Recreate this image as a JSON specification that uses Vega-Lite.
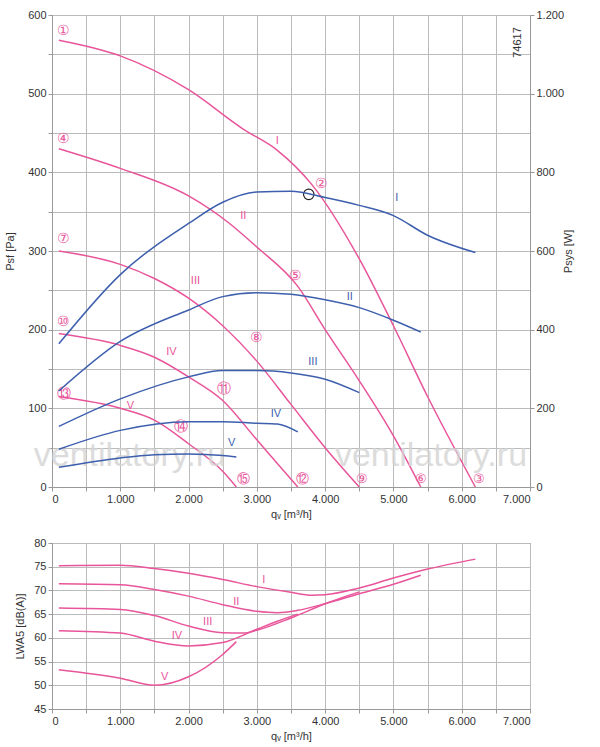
{
  "$schema": "https://vega.github.io/schema/vega-lite/v6.json",
  "padding": {"left": 4, "top": 8, "right": 5, "bottom": 0},
  "background": "white",
  "spacing": 16,
  "datasets": {
    "p": [
      {"q":100,"pa":568,"c":"I"},{"q":1000,"pa":548,"c":"I"},{"q":2000,"pa":505,"c":"I"},{"q":2800,"pa":455,"c":"I"},{"q":3300,"pa":428,"c":"I"},{"q":3800,"pa":385,"c":"I"},{"q":4500,"pa":290,"c":"I"},{"q":5000,"pa":205,"c":"I"},{"q":5500,"pa":115,"c":"I"},{"q":6200,"pa":0,"c":"I"},
      {"q":100,"pa":430,"c":"II"},{"q":1000,"pa":405,"c":"II"},{"q":2000,"pa":370,"c":"II"},{"q":2600,"pa":335,"c":"II"},{"q":3000,"pa":305,"c":"II"},{"q":3600,"pa":255,"c":"II"},{"q":4000,"pa":200,"c":"II"},{"q":4500,"pa":135,"c":"II"},{"q":5000,"pa":65,"c":"II"},{"q":5400,"pa":0,"c":"II"},
      {"q":100,"pa":300,"c":"III"},{"q":1000,"pa":283,"c":"III"},{"q":1500,"pa":265,"c":"III"},{"q":2000,"pa":240,"c":"III"},{"q":2500,"pa":205,"c":"III"},{"q":3000,"pa":160,"c":"III"},{"q":3500,"pa":105,"c":"III"},{"q":4000,"pa":50,"c":"III"},{"q":4500,"pa":0,"c":"III"},
      {"q":100,"pa":195,"c":"IV"},{"q":1000,"pa":180,"c":"IV"},{"q":1500,"pa":165,"c":"IV"},{"q":2000,"pa":140,"c":"IV"},{"q":2500,"pa":110,"c":"IV"},{"q":3000,"pa":60,"c":"IV"},{"q":3300,"pa":30,"c":"IV"},{"q":3600,"pa":0,"c":"IV"},
      {"q":100,"pa":115,"c":"V"},{"q":1000,"pa":100,"c":"V"},{"q":1500,"pa":85,"c":"V"},{"q":2000,"pa":55,"c":"V"},{"q":2500,"pa":20,"c":"V"},{"q":2700,"pa":0,"c":"V"}
    ],
    "w": [
      {"q":100,"w":364,"c":"I"},{"q":1000,"w":540,"c":"I"},{"q":2000,"w":670,"c":"I"},{"q":2500,"w":724,"c":"I"},{"q":3000,"w":750,"c":"I"},{"q":3500,"w":752,"c":"I"},{"q":4000,"w":736,"c":"I"},{"q":4500,"w":716,"c":"I"},{"q":5000,"w":690,"c":"I"},{"q":5500,"w":640,"c":"I"},{"q":6200,"w":596,"c":"I"},
      {"q":100,"w":244,"c":"II"},{"q":1000,"w":370,"c":"II"},{"q":2000,"w":450,"c":"II"},{"q":2500,"w":484,"c":"II"},{"q":3000,"w":494,"c":"II"},{"q":3500,"w":490,"c":"II"},{"q":4000,"w":476,"c":"II"},{"q":4500,"w":456,"c":"II"},{"q":5000,"w":424,"c":"II"},{"q":5400,"w":394,"c":"II"},
      {"q":100,"w":154,"c":"III"},{"q":1000,"w":224,"c":"III"},{"q":2000,"w":280,"c":"III"},{"q":2500,"w":296,"c":"III"},{"q":3000,"w":296,"c":"III"},{"q":3500,"w":290,"c":"III"},{"q":4000,"w":274,"c":"III"},{"q":4500,"w":240,"c":"III"},
      {"q":100,"w":96,"c":"IV"},{"q":1000,"w":144,"c":"IV"},{"q":2000,"w":166,"c":"IV"},{"q":2500,"w":166,"c":"IV"},{"q":3000,"w":162,"c":"IV"},{"q":3300,"w":160,"c":"IV"},{"q":3600,"w":140,"c":"IV"},
      {"q":100,"w":50,"c":"V"},{"q":1000,"w":74,"c":"V"},{"q":1500,"w":82,"c":"V"},{"q":2000,"w":84,"c":"V"},{"q":2500,"w":80,"c":"V"},{"q":2700,"w":76,"c":"V"}
    ],
    "lw": [
      {"q":100,"db":75.2,"c":"I"},{"q":1000,"db":75.3,"c":"I"},{"q":1500,"db":74.6,"c":"I"},{"q":2000,"db":73.6,"c":"I"},{"q":2500,"db":72.3,"c":"I"},{"q":3000,"db":70.8,"c":"I"},{"q":3500,"db":69.6,"c":"I"},{"q":3800,"db":69,"c":"I"},{"q":4000,"db":69.1,"c":"I"},{"q":4500,"db":70.5,"c":"I"},{"q":5000,"db":72.6,"c":"I"},{"q":5500,"db":74.5,"c":"I"},{"q":6200,"db":76.6,"c":"I"},
      {"q":100,"db":71.4,"c":"II"},{"q":1000,"db":71.2,"c":"II"},{"q":1500,"db":70.2,"c":"II"},{"q":2000,"db":68.8,"c":"II"},{"q":2500,"db":67,"c":"II"},{"q":3000,"db":65.6,"c":"II"},{"q":3300,"db":65.3,"c":"II"},{"q":3600,"db":65.8,"c":"II"},{"q":4000,"db":67.2,"c":"II"},{"q":4500,"db":69.3,"c":"II"},{"q":5000,"db":71.3,"c":"II"},{"q":5400,"db":73.2,"c":"II"},
      {"q":100,"db":66.3,"c":"III"},{"q":1000,"db":66,"c":"III"},{"q":1500,"db":64.7,"c":"III"},{"q":2000,"db":62.5,"c":"III"},{"q":2500,"db":61.1,"c":"III"},{"q":2800,"db":61,"c":"III"},{"q":3000,"db":61.6,"c":"III"},{"q":3500,"db":64.2,"c":"III"},{"q":4000,"db":67.2,"c":"III"},{"q":4500,"db":69.7,"c":"III"},
      {"q":100,"db":61.5,"c":"IV"},{"q":1000,"db":61,"c":"IV"},{"q":1500,"db":59.3,"c":"IV"},{"q":2000,"db":58.3,"c":"IV"},{"q":2500,"db":59,"c":"IV"},{"q":3000,"db":61.8,"c":"IV"},{"q":3300,"db":63.5,"c":"IV"},{"q":3600,"db":65,"c":"IV"},
      {"q":100,"db":53.3,"c":"V"},{"q":1000,"db":51.5,"c":"V"},{"q":1500,"db":50,"c":"V"},{"q":2000,"db":51.8,"c":"V"},{"q":2500,"db":56.5,"c":"V"},{"q":2700,"db":59.2,"c":"V"}
    ],
    "plabels": [
      {"q":3300,"pa":440,"t":"I","col":"#e8559a","size":11},
      {"q":2800,"pa":345,"t":"II","col":"#e8559a","size":11},
      {"q":2100,"pa":262,"t":"III","col":"#e8559a","size":11},
      {"q":1750,"pa":172,"t":"IV","col":"#e8559a","size":11},
      {"q":1150,"pa":103,"t":"V","col":"#e8559a","size":11},
      {"q":5050,"pa":367,"t":"I","col":"#3d5fad","size":11},
      {"q":4360,"pa":241,"t":"II","col":"#3d5fad","size":11},
      {"q":3820,"pa":159,"t":"III","col":"#3d5fad","size":11},
      {"q":3280,"pa":93,"t":"IV","col":"#3d5fad","size":11},
      {"q":2630,"pa":56,"t":"V","col":"#3d5fad","size":11},
      {"q":175,"pa":580,"t":"①","col":"#e8559a","size":14},
      {"q":175,"pa":442,"t":"④","col":"#e8559a","size":14},
      {"q":175,"pa":315,"t":"⑦","col":"#e8559a","size":14},
      {"q":175,"pa":210,"t":"⑩","col":"#e8559a","size":14},
      {"q":175,"pa":118,"t":"⑬","col":"#e8559a","size":14},
      {"q":3950,"pa":385,"t":"②","col":"#e8559a","size":14},
      {"q":3570,"pa":268,"t":"⑤","col":"#e8559a","size":14},
      {"q":2990,"pa":190,"t":"⑧","col":"#e8559a","size":14},
      {"q":2520,"pa":125,"t":"⑪","col":"#e8559a","size":14},
      {"q":1890,"pa":76,"t":"⑭","col":"#e8559a","size":14},
      {"q":6250,"pa":10,"t":"③","col":"#e8559a","size":13},
      {"q":5400,"pa":10,"t":"⑥","col":"#e8559a","size":13},
      {"q":4540,"pa":10,"t":"⑨","col":"#e8559a","size":13},
      {"q":3670,"pa":10,"t":"⑫","col":"#e8559a","size":13},
      {"q":2810,"pa":10,"t":"⑮","col":"#e8559a","size":13}
    ],
    "lwlabels": [
      {"q":3100,"db":72.3,"t":"I"},{"q":2700,"db":67.5,"t":"II"},{"q":2280,"db":63.3,"t":"III"},{"q":1830,"db":60.3,"t":"IV"},{"q":1650,"db":51.8,"t":"V"}
    ]
  },
  "config": {
    "view": {"stroke": "#999"},
    "font": "Liberation Sans",
    "axis": {"grid": true, "gridColor": "#bbb", "gridWidth": 1, "tickColor": "#999", "domainColor": "#999", "labelColor": "#333", "labelFontSize": 11, "titleFontSize": 11, "titleFontWeight": "normal", "titleColor": "#333", "labelOverlap": false, "tickSize": 4}
  },
  "vconcat": [
    {
      "width": 478,
      "height": 472,
      "resolve": {"scale": {"y": "independent"}, "axis": {"y": "independent"}},
      "layer": [
        {
          "layer": [
            {
              "data": {"name": "p"},
              "mark": {"type": "line", "color": "#e8559a", "strokeWidth": 1.5, "interpolate": "monotone"},
              "encoding": {
                "x": {"field": "q", "type": "quantitative", "scale": {"domain": [0, 7000]}, "title": "qᵥ [m³/h]",
                  "axis": {"tickCount": 14, "labelExpr": "datum.value % 1000 == 0 ? replace(format(datum.value, ','), ',', '.') : ''", "titlePadding": 4}},
                "y": {"field": "pa", "type": "quantitative", "scale": {"domain": [0, 600]}, "title": "Psf [Pa]",
                  "axis": {"tickCount": 12, "labelExpr": "datum.value % 100 == 0 ? datum.label : ''", "titlePadding": 12}},
                "detail": {"field": "c"}
              }
            },
            {
              "data": {"values": [{"q":1140,"pa":40,"t":"ventilatory.ru"},{"q":5550,"pa":40,"t":"ventilatory.ru"}]},
              "mark": {"type": "text", "fontSize": 34, "color": "#d4d4d4", "opacity": 0.8},
              "encoding": {"x": {"field": "q", "type": "quantitative"}, "y": {"field": "pa", "type": "quantitative"}, "text": {"field": "t"}}
            },
            {
              "data": {"name": "plabels"},
              "mark": {"type": "text", "baseline": "middle"},
              "encoding": {
                "x": {"field": "q", "type": "quantitative"},
                "y": {"field": "pa", "type": "quantitative"},
                "text": {"field": "t"},
                "color": {"field": "col", "type": "nominal", "scale": null},
                "size": {"field": "size", "type": "quantitative", "scale": null}
              }
            },
            {
              "data": {"values": [{"q":3760,"pa":372}]},
              "mark": {"type": "point", "shape": "circle", "size": 110, "stroke": "#222", "fill": "white", "strokeWidth": 1.2, "opacity": 1},
              "encoding": {"x": {"field": "q", "type": "quantitative"}, "y": {"field": "pa", "type": "quantitative"}}
            },
            {
              "data": {"values": [{"q":6830,"pa":565,"t":"74617"}]},
              "mark": {"type": "text", "angle": 270, "fontSize": 11, "color": "#333"},
              "encoding": {"x": {"field": "q", "type": "quantitative"}, "y": {"field": "pa", "type": "quantitative"}, "text": {"field": "t"}}
            }
          ]
        },
        {
          "data": {"name": "w"},
          "mark": {"type": "line", "color": "#3d5fad", "strokeWidth": 1.5, "interpolate": "monotone"},
          "encoding": {
            "x": {"field": "q", "type": "quantitative"},
            "y": {"field": "w", "type": "quantitative", "scale": {"domain": [0, 1200]}, "title": "Psys [W]",
              "axis": {"orient": "right", "grid": false, "titleAngle": 270, "tickCount": 6, "labelExpr": "replace(format(datum.value, ','), ',', '.')", "titlePadding": 10}},
            "detail": {"field": "c"}
          }
        }
      ]
    },
    {
      "width": 478,
      "height": 166,
      "layer": [
        {
          "data": {"name": "lw"},
          "mark": {"type": "line", "color": "#e8559a", "strokeWidth": 1.5, "interpolate": "monotone"},
          "encoding": {
            "x": {"field": "q", "type": "quantitative", "scale": {"domain": [0, 7000]}, "title": "qᵥ [m³/h]",
              "axis": {"tickCount": 14, "labelExpr": "datum.value % 1000 == 0 ? replace(format(datum.value, ','), ',', '.') : ''", "titlePadding": 4}},
            "y": {"field": "db", "type": "quantitative", "scale": {"domain": [45, 80], "zero": false, "nice": false}, "title": "LWA5 [dB(A)]",
              "axis": {"tickCount": 7, "titlePadding": 8}},
            "detail": {"field": "c"}
          }
        },
        {
          "data": {"name": "lwlabels"},
          "mark": {"type": "text", "color": "#e8559a", "fontSize": 11},
          "encoding": {
            "x": {"field": "q", "type": "quantitative"},
            "y": {"field": "db", "type": "quantitative"},
            "text": {"field": "t"}
          }
        }
      ]
    }
  ]
}
